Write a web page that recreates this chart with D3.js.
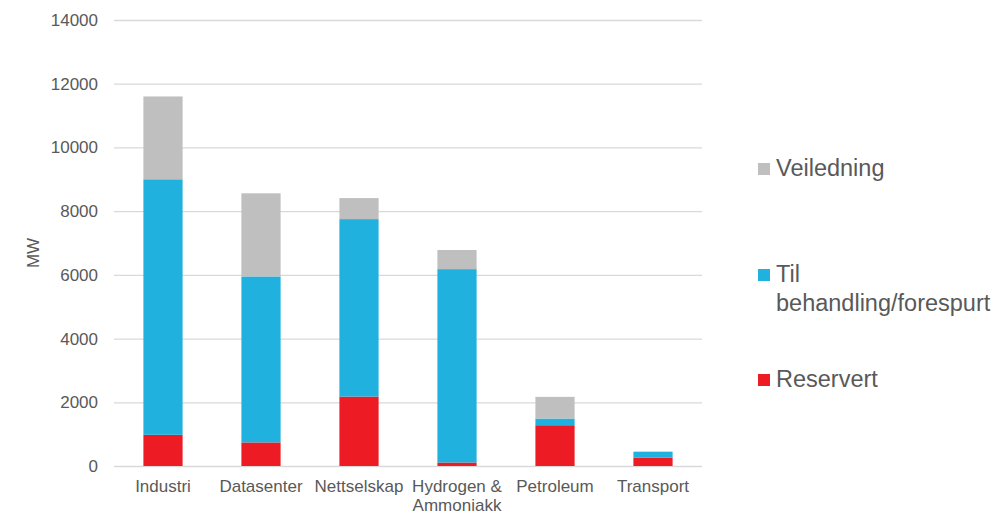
<!DOCTYPE html>
<html>
<head>
<meta charset="utf-8">
<script src="https://cdn.jsdelivr.net/npm/d3@7"></script>
<style>
  html, body { margin: 0; padding: 0; background: #fff; }
  svg { display: block; font-family: "Liberation Sans", Arial, sans-serif; }
</style>
</head>
<body>
<svg id="chart" width="999" height="514"></svg>
<script>
// Categories and stacked series (MW)
const categories = ["Industri", "Datasenter", "Nettselskap", "Hydrogen & Ammoniakk", "Petroleum", "Transport"];
const reservert  = [980, 740, 2180, 110, 1280, 260];
const tilBehandling = [8020, 5210, 5570, 6070, 210, 190];
const veiledning = [2600, 2610, 660, 600, 680, 0];
const yTicks = [0, 2000, 4000, 6000, 8000, 10000, 12000, 14000];

const seriesNames = ["Reservert", "Til behandling/forespurt", "Veiledning"];
const seriesColors = { "Reservert": "#ED1C24", "Til behandling/forespurt": "#21B1DE", "Veiledning": "#BFBFBF" };

const rows = categories.map((c, i) => ({
  category: c,
  "Reservert": reservert[i],
  "Til behandling/forespurt": tilBehandling[i],
  "Veiledning": veiledning[i]
}));

const svg = d3.select("#chart");
const margin = { left: 114, right: 297, top: 20, bottom: 48 };
const W = 999, H = 514;
const textColor = "#595959";

const x = d3.scaleBand()
  .domain(categories)
  .range([margin.left, W - margin.right])
  .paddingInner(0.6)
  .paddingOuter(0.3);

const y = d3.scaleLinear()
  .domain([0, 14000])
  .range([H - margin.bottom, margin.top]);

// Gridlines and y tick labels
const yAxis = d3.axisLeft(y)
  .tickValues(yTicks)
  .tickSize(-(W - margin.right - margin.left))
  .tickPadding(16)
  .tickFormat(d3.format("d"));

const gy = svg.append("g")
  .attr("transform", `translate(${margin.left},0)`)
  .call(yAxis);
gy.select(".domain").remove();
gy.selectAll(".tick line").attr("stroke", "#D9D9D9").attr("stroke-width", 1.3);
gy.selectAll(".tick text")
  .attr("fill", textColor)
  .style("font-size", "17px")
  .attr("font-family", "'Liberation Sans', Arial, sans-serif");

// Stacked bars
const stack = d3.stack().keys(seriesNames);
const layers = stack(rows);

svg.append("g")
  .selectAll("g")
  .data(layers)
  .join("g")
  .attr("fill", d => seriesColors[d.key])
  .selectAll("rect")
  .data(d => d)
  .join("rect")
  .attr("x", d => x(d.data.category))
  .attr("width", x.bandwidth())
  .attr("y", d => y(d[1]))
  .attr("height", d => Math.max(0, y(d[0]) - y(d[1])));

// Wrap text into lines no wider than maxW
function wrapLines(text, maxW, fontSize) {
  const tmp = svg.append("text").style("font-size", fontSize + "px");
  const words = text.split(" ");
  const lines = [];
  let cur = "";
  words.forEach(w => {
    const trial = cur ? cur + " " + w : w;
    tmp.text(trial);
    if (tmp.node().getComputedTextLength() > maxW && cur) {
      lines.push(cur);
      cur = w;
    } else {
      cur = trial;
    }
  });
  if (cur) lines.push(cur);
  tmp.remove();
  return lines;
}

// Category labels
const catFont = 17;
const catG = svg.append("g");
categories.forEach(c => {
  const lines = wrapLines(c, x.step(), catFont);
  const t = catG.append("text")
    .attr("text-anchor", "middle")
    .attr("fill", textColor)
    .style("font-size", catFont + "px");
  lines.forEach((ln, i) => {
    t.append("tspan")
      .attr("x", x(c) + x.bandwidth() / 2)
      .attr("y", y(0) + 25.5 + i * 19.5)
      .text(ln);
  });
});

// Y axis title
svg.append("text")
  .attr("transform", `translate(39,${(y(0) + y(14000)) / 2 + 10}) rotate(-90)`)
  .attr("text-anchor", "middle")
  .attr("fill", textColor)
  .style("font-size", "17px")
  .text("MW");

// Legend (top to bottom: Veiledning, Til behandling/forespurt, Reservert)
const legendFont = 23.5;
const legendItems = ["Veiledning", "Til behandling/forespurt", "Reservert"];
const legendBase = [176, 282, 387];
const legend = svg.append("g");
legendItems.forEach((name, i) => {
  legend.append("rect")
    .attr("x", 758)
    .attr("y", legendBase[i] - 13)
    .attr("width", 12)
    .attr("height", 12)
    .attr("fill", seriesColors[name]);
  const lines = wrapLines(name, 999 - 778, legendFont);
  const t = legend.append("text")
    .attr("fill", textColor)
    .style("font-size", legendFont + "px");
  lines.forEach((ln, j) => {
    t.append("tspan")
      .attr("x", 776)
      .attr("y", legendBase[i] + j * 29)
      .text(ln);
  });
});
</script>
</body>
</html>
